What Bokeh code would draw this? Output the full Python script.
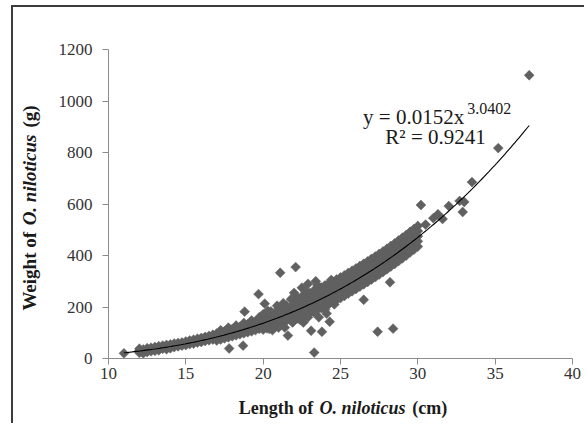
import numpy as np
from bokeh.plotting import figure
from bokeh.models import Label, FixedTicker, Range1d
from bokeh.embed import file_html
from bokeh.resources import INLINE

# ---- data ----
# dense band of fish: length (cm) and the weights (g) seen at that length
band_x = [12.0, 12.25, 12.5, 12.75, 13.0, 13.25, 13.5, 13.75, 14.0, 14.25, 14.5, 14.75,
          15.0, 15.25, 15.5, 15.75, 16.0, 16.25, 16.5, 16.75, 17.0, 17.25, 17.5, 17.75,
          18.0, 18.25, 18.5, 18.75, 19.0, 19.25, 19.5, 19.75, 20.0, 20.25, 20.5, 20.75,
          21.0, 21.25, 21.5, 21.75, 22.0, 22.25, 22.5, 22.75, 23.0, 23.25, 23.5, 23.75,
          24.0, 24.25, 24.5, 24.75, 25.0, 25.25, 25.5, 25.75, 26.0, 26.25, 26.5, 26.75,
          27.0, 27.25, 27.5, 27.75, 28.0, 28.25, 28.5, 28.75, 29.0, 29.25, 29.5, 29.75, 30.0]
band_w = [
    [22, 31, 38], [27, 35, 20], [40, 30, 25], [33, 42, 28], [45, 36, 30], [32, 40, 48],
    [50, 38, 42], [45, 36, 53], [40, 55, 48], [58, 44, 50], [47, 60, 53], [62, 50, 56],
    [52, 66, 59], [70, 56, 62], [58, 73, 66], [77, 62, 69], [64, 80, 72], [84, 68, 76],
    [71, 88, 79], [92, 74, 82],
    [70, 80, 88, 97], [74, 84, 92, 101, 110], [78, 88, 96, 106], [82, 92, 100, 110, 120],
    [86, 95, 105, 114], [90, 100, 109, 119, 128], [94, 104, 113, 123],
    [98, 108, 118, 128, 138], [102, 112, 122, 133], [106, 117, 127, 138, 148],
    [110, 122, 132, 143], [115, 127, 137, 148, 160],
    [112, 127, 142, 157, 172], [117, 132, 147, 162], [123, 138, 153, 168, 183],
    [128, 143, 158, 173], [134, 149, 164, 179, 194], [140, 155, 170, 185],
    [146, 161, 176, 191, 206], [152, 167, 182, 197],
    [148, 168, 188, 208, 228], [155, 175, 195, 215, 235], [161, 181, 201, 221, 241],
    [168, 188, 208, 228, 248], [175, 195, 215, 235, 255], [182, 202, 222, 242, 262],
    [189, 209, 229, 249, 269], [196, 216, 236, 256, 276], [204, 224, 244, 264, 284],
    [211, 231, 251, 271, 291], [219, 239, 259, 279, 299], [227, 247, 267, 287, 307],
    [235, 255, 275, 295, 315], [243, 263, 283, 303, 323], [252, 272, 292, 312, 332],
    [261, 281, 301, 321, 341], [270, 290, 310, 330, 350], [279, 299, 319, 339, 359],
    [288, 308, 328, 348, 368], [297, 317, 337, 357, 377], [307, 327, 347, 367, 387],
    [316, 336, 356, 376, 396], [326, 346, 366, 386, 406], [336, 356, 376, 396, 416],
    [346, 366, 386, 406, 426], [357, 377, 397, 417, 437], [367, 387, 407, 427, 447],
    [378, 398, 418, 438, 458], [389, 409, 429, 449, 469], [400, 420, 440, 460, 480],
    [412, 432, 452, 472, 492], [423, 443, 463, 483, 503], [435, 455, 475, 495, 515],
]
# isolated fish away from the band
single_x = [11.0, 17.8, 18.7, 18.8, 19.7, 20.1, 21.1, 22.1, 21.6, 23.1, 23.3, 23.8, 24.3,
            26.5, 27.4, 28.4, 28.2, 30.2, 30.5, 31.0, 31.3, 31.6, 32.0, 32.7, 32.9, 33.0,
            33.5, 35.2, 37.2, 22.5, 22.9, 23.4, 22.6, 23.6, 24.1, 21.4, 20.6,
            20.3, 20.9, 21.3, 21.8, 20.4, 21.0, 21.9, 22.4, 22.9, 23.3, 24.0, 24.6,
            22.0, 22.7, 23.5, 24.4]
single_w = [20, 39, 50, 182, 250, 213, 333, 355, 89, 108, 23, 104, 143,
            228, 104, 116, 296, 596, 520, 545, 560, 542, 592, 612, 569, 608,
            685, 817, 1100, 275, 290, 300, 140, 160, 175, 120, 110,
            185, 205, 215, 230, 115, 120, 140, 150, 160, 180, 190, 210,
            255, 265, 285, 305]

x_ticks = [10, 15, 20, 25, 30, 35, 40]
y_ticks = [0, 200, 400, 600, 800, 1000, 1200]

fit_a = 0.0152
fit_b = 3.0402

eq_main = "y = 0.0152x"
eq_sup = "3.0402"
eq_r2 = "R\u00b2 = 0.9241"

NB = "\u00a0"
x_title_plain = "Length of" + NB * 22 + "(cm)"
x_title_ital = "O. niloticus"
y_title_plain = "Weight of" + NB * 22 + "(g)"
y_title_ital = "O. niloticus"

length_cm = [x for x, ws in zip(band_x, band_w) for _ in ws] + single_x
weight_g = [w for ws in band_w for w in ws] + single_w

SERIF = "Liberation Serif"

p = figure(width=573, height=418,
           x_range=Range1d(10, 40), y_range=Range1d(0, 1200),
           output_backend="svg", toolbar_location=None,
           min_border_left=95, min_border_right=14,
           min_border_top=42, min_border_bottom=67)
p.styles = {"border-top": "2px solid #3c3c3c", "border-left": "2px solid #3c3c3c",
            "margin-left": "11px", "margin-top": "5px"}

p.xgrid.visible = False
p.ygrid.visible = False
p.outline_line_color = None
p.background_fill_color = "white"
p.border_fill_color = "white"

for ax in (p.xaxis[0], p.yaxis[0]):
    ax.axis_line_color = "#8c8c8c"
    ax.major_tick_line_color = "#8c8c8c"
    ax.minor_tick_line_color = None
    ax.major_tick_in = 0
    ax.major_tick_out = 6
    ax.major_label_text_font = SERIF
    ax.major_label_text_font_size = "17px"
    ax.major_label_text_color = "#333333"
    ax.axis_label = None

p.xaxis[0].ticker = FixedTicker(ticks=x_ticks)
p.yaxis[0].ticker = FixedTicker(ticks=y_ticks)
p.xaxis[0].major_label_standoff = 3
p.yaxis[0].major_label_standoff = 10

# scatter of observations
p.scatter(length_cm, weight_g, marker="square", angle=np.pi / 4, size=7,
          fill_color="#606060", line_color="#606060", line_width=0.5)

# power trendline from the chart's own equation
xs = np.linspace(min(length_cm), max(length_cm), 200)
ys = fit_a * xs ** fit_b
p.line(xs, ys, line_color="black", line_width=1.1)

# equation text
p.add_layout(Label(x=26.46, y=937, text=eq_main, text_font=SERIF, text_font_size="21px",
                   text_color="#1a1a1a", text_baseline="middle", text_align="left"))
p.add_layout(Label(x=33.2, y=972, text=eq_sup, text_font=SERIF, text_font_size="16px",
                   text_color="#1a1a1a", text_baseline="middle", text_align="left"))
p.add_layout(Label(x=27.9, y=862, text=eq_r2, text_font=SERIF, text_font_size="21px",
                   text_color="#1a1a1a", text_baseline="middle", text_align="left"))

# axis titles (bold, with italic species name), kept in the side panels
xt_y = -194
p.add_layout(Label(x=18.42, y=xt_y, text=x_title_plain, text_font=SERIF,
                   text_font_size="18px", text_font_style="bold", text_color="#1a1a1a",
                   text_baseline="middle", text_align="left"), "above")
p.add_layout(Label(x=23.64, y=xt_y, text=x_title_ital, text_font=SERIF,
                   text_font_size="18px", text_font_style="bold italic",
                   text_color="#1a1a1a",
                   text_baseline="middle", text_align="left"), "below")

yt_x = 4.88
p.add_layout(Label(x=yt_x, y=186, text=y_title_plain, text_font=SERIF,
                   text_font_size="19px", text_font_style="bold", text_color="#1a1a1a",
                   angle=np.pi / 2, text_baseline="middle", text_align="left"), "left")
p.add_layout(Label(x=yt_x, y=517, text=y_title_ital, text_font=SERIF,
                   text_font_size="19px", text_font_style="bold italic",
                   text_color="#1a1a1a",
                   angle=np.pi / 2, text_baseline="middle", text_align="left"), "left")

open("out.html", "w").write(file_html(p, INLINE))
